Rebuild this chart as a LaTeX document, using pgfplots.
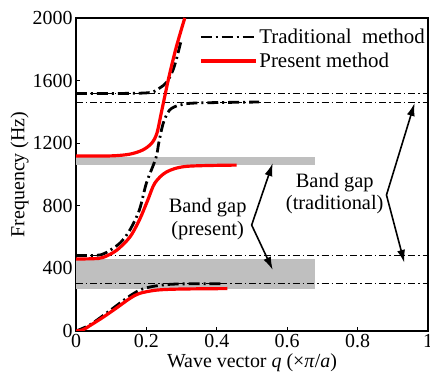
\documentclass[border=0pt]{standalone}
\usepackage{fontspec}
\setmainfont{Liberation Serif}
\usepackage{pgfplots}
\pgfplotsset{compat=1.18}
\usetikzlibrary{arrows.meta}
\begin{document}
\begin{tikzpicture}
\tikzset{tradline/.style={black, line width=2.8pt, dash pattern=on 11pt off 4pt on 2pt off 4pt},
refline/.style={black, line width=0.8pt, dash pattern=on 7pt off 3pt on 1.5pt off 3pt},
ann/.style={line width=1.6pt, -{Latex[length=13bp,width=8bp]}}}
\begin{axis}[
  scale only axis, width=352bp, height=313bp,
  xmin=0, xmax=1, ymin=0, ymax=2000,
  xtick={0,0.2,0.4,0.6,0.8,1}, ytick={0,400,800,1200,1600,2000},
  xticklabels={0,0.2,0.4,0.6,0.8,1},
  tick align=inside, xtick pos=bottom, ytick pos=left,
  major tick length=4bp,
  axis line style={line width=1.2pt}, tick style={line width=1pt, black},
  /pgf/number format/assume math mode=true,
  /pgf/number format/1000 sep={},
  ticklabel style={font=\fontsize{20}{24}\selectfont},
  label style={font=\fontsize{20}{24}\selectfont},
  xlabel={Wave vector \textit{q} (×\textit{π}/\textit{a})},
  ylabel={Frequency (Hz)},
  xlabel style={yshift=1bp},
  ylabel style={yshift=-3bp},
  legend style={draw=none, fill=none, at={(1,0.975)}, anchor=north east,
    font=\fontsize{21}{23}\selectfont, row sep=4bp, inner sep=1bp},
  legend cell align=left,
  legend image code/.code={\draw[#1] (0bp,0bp) -- (55bp,0bp);},
]
% band gaps (present)
\addplot[fill=black!25, draw=none, forget plot] coordinates {(0,270) (0.678,270) (0.678,460) (0,460)} -- cycle;
\addplot[fill=black!25, draw=none, forget plot] coordinates {(0,1058) (0.678,1058) (0.678,1115) (0,1115)} -- cycle;
% reference lines (traditional)
\addplot[refline, forget plot] coordinates {(0,1517) (1,1517)};
\addplot[refline, forget plot] coordinates {(0,1463) (1,1463)};
\addplot[refline, forget plot] coordinates {(0,482) (1,482)};
\addplot[refline, forget plot] coordinates {(0,302) (1,302)};
% traditional
\addplot[tradline, smooth, tension=0.5] coordinates {(0,0) (0.04,40) (0.096,130) (0.147,215) (0.18,260) (0.21,281) (0.25,295) (0.3,301) (0.42,302)};
\addlegendentry{Traditional\ \ method}
\addplot[red, line width=3.2pt, smooth, tension=0.5] coordinates {(0,0) (0.02,8) (0.04,35) (0.077,88) (0.115,147) (0.153,208) (0.18,240) (0.228,261) (0.295,268) (0.43,271)};
\addlegendentry{Present method}
\addplot[tradline, smooth, tension=0.5, forget plot] coordinates {(0,482) (0.06,484) (0.085,500) (0.125,562) (0.153,645) (0.18,773) (0.2,945) (0.227,1105) (0.235,1200) (0.248,1329) (0.266,1412) (0.295,1444) (0.343,1457) (0.52,1463)};
\addplot[tradline, smooth, tension=0.5, forget plot] coordinates {(0,1517) (0.17,1519) (0.218,1527) (0.238,1553) (0.258,1590) (0.276,1670) (0.288,1760) (0.298,1850)};
\addplot[red, line width=3.2pt, smooth, tension=0.5, forget plot] coordinates {(0,460) (0.05,462) (0.077,470) (0.115,515) (0.153,600) (0.18,709) (0.204,837) (0.224,945) (0.257,1016) (0.314,1052) (0.456,1060)};
\addplot[red, line width=3.2pt, smooth, tension=0.5, forget plot] coordinates {(0,1118) (0.1,1119) (0.153,1130) (0.19,1157) (0.215,1200) (0.23,1265) (0.244,1412) (0.264,1623) (0.285,1815) (0.309,2000)};
% annotations
\node[align=center, font=\fontsize{20.5}{23}\selectfont] at (axis cs:0.374,715) {Band gap\\(present)};
\node[align=center, font=\fontsize{20.5}{23}\selectfont] at (axis cs:0.735,878) {Band gap\\(traditional)};
\draw[ann] (axis cs:0.499,677) -- (axis cs:0.559,1073);
\draw[ann] (axis cs:0.499,677) -- (axis cs:0.559,390);
\draw[ann] (axis cs:0.882,869) -- (axis cs:0.962,1457);
\draw[ann] (axis cs:0.882,869) -- (axis cs:0.933,435);
\end{axis}
\pgfresetboundingbox
\path[use as bounding box] ([shift={(-76bp,-41bp)}]current axis.south west) rectangle ([shift={(2bp,18bp)}]current axis.north east);
\end{tikzpicture}
\end{document}
